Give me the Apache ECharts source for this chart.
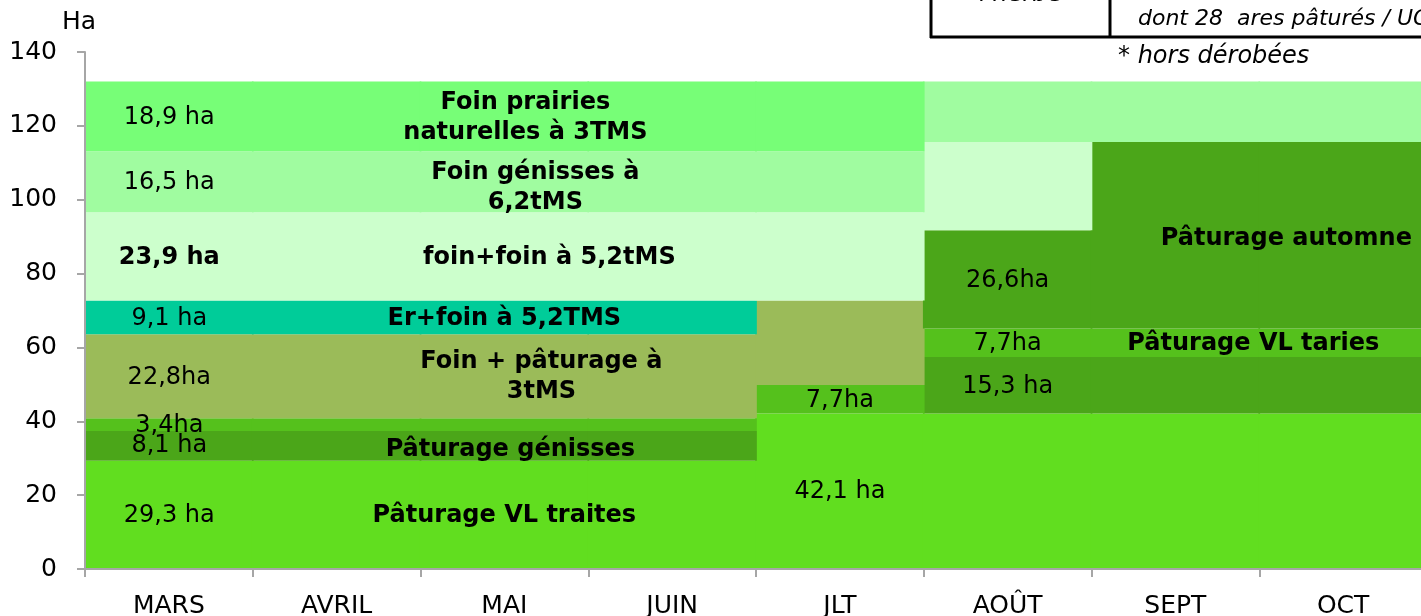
<!DOCTYPE html>
<html>
<head>
<meta charset="utf-8">
<script src="https://cdn.jsdelivr.net/npm/echarts@6/dist/echarts.min.js"></script>
<style>
	html, body { margin: 0; padding: 0; background: #fff; }
	#surfaces { width: 1421px; height: 616px; }
</style>
</head>
<body>
<div id="surfaces"></div>
<script>
	// mois de la saison de pâturage
	var months = ['MARS', 'AVRIL', 'MAI', 'JUIN', 'JLT', 'AOÛT', 'SEPT', 'OCT'];
	var yTicks = [0, 20, 40, 60, 80, 100, 120, 140];

	// surfaces (ha), empilées du bas vers le haut
	var vlTraites = [29.3, 29.3, 29.3, 29.3, 42.1, 42.1, 42.1, 42.1];
	var genisses  = [8.1, 8.1, 8.1, 8.1, null, 15.3, 15.3, 15.3];
	var petitPat  = [3.4, 3.4, 3.4, 3.4, 7.7, 7.7, 7.7, 7.7];
	var foinPat   = [22.8, 22.8, 22.8, 22.8, 22.9, null, null, null];
	var erFoin    = [9.1, 9.1, 9.1, 9.1, null, null, null, null];
	var automne   = [null, null, null, null, null, 26.6, 50.5, 50.5];
	var foinFoin  = [23.9, 23.9, 23.9, 23.9, 23.9, 23.9, null, null];
	var foinGen   = [16.5, 16.5, 16.5, 16.5, 16.5, 16.4, 16.4, 16.4];
	var foinNat   = [18.9, 18.9, 18.9, 18.9, 18.9, null, null, null];

	var FONT = 'DejaVu Sans, Verdana, sans-serif';

	// une couche de la pile ; lbl = [indice du mois, texte, décalage x, décalage y, gras]
	function couche(name, values, color, lbl) {
		var data = [];
		for (var i = 0; i < values.length; i++) {
			var item = { value: values[i] == null ? '-' : values[i] };
			for (var k = 0; k < lbl.length; k++) {
				if (lbl[k][0] === i) {
					item.label = {
						show: true,
						position: 'inside',
						formatter: lbl[k][1],
						offset: [lbl[k][2], lbl[k][3]],
						fontWeight: lbl[k][4] ? 'bold' : 'normal'
					};
				}
			}
			data.push(item);
		}
		return {
			name: name,
			type: 'bar',
			stack: 'ha',
			// un peu plus large que le mois : pas de fente entre les colonnes
			barWidth: '101%',
			itemStyle: { color: color },
			label: {
				show: false,
				color: '#000',
				fontFamily: FONT,
				fontSize: 24,
				lineHeight: 30
			},
			emphasis: { disabled: true },
			data: data
		};
	}

	var chart = echarts.init(document.getElementById('surfaces'));

	var option = {
		animation: false,
		textStyle: { fontFamily: FONT },
		// le graphique d'origine dépasse un peu à droite de la capture
		grid: { left: 85, width: 1342, top: 52, bottom: 47, outerBoundsMode: 'none' },
		xAxis: {
			type: 'category',
			data: months,
			boundaryGap: true,
			z: 3,
			axisLine: { lineStyle: { color: '#a6a6a6', width: 2 } },
			axisTick: { show: true, length: 8, interval: 0, lineStyle: { color: '#a6a6a6', width: 2 } },
			axisLabel: { color: '#000', fontSize: 25, margin: 25, interval: 0 }
		},
		yAxis: {
			type: 'value',
			min: yTicks[0],
			max: yTicks[yTicks.length - 1],
			interval: yTicks[1] - yTicks[0],
			z: 3,
			splitLine: { show: false },
			axisLine: { show: true, lineStyle: { color: '#a6a6a6', width: 2 } },
			axisTick: { show: true, length: 8, lineStyle: { color: '#a6a6a6', width: 2 } },
			axisLabel: { color: '#000', fontSize: 25, margin: 28 }
		},
		graphic: [
			{ type: 'text', left: 62, top: 10, style: { text: 'Ha', fontSize: 25, fontFamily: FONT, fill: '#000' } },
			// morceau du tableau au-dessus du graphique
			{ type: 'line', shape: { x1: 931, y1: 0, x2: 931, y2: 38 }, style: { stroke: '#000', lineWidth: 3 } },
			{ type: 'line', shape: { x1: 1110, y1: 0, x2: 1110, y2: 38 }, style: { stroke: '#000', lineWidth: 3 } },
			{ type: 'line', shape: { x1: 930, y1: 37, x2: 1421, y2: 37 }, style: { stroke: '#000', lineWidth: 3 } },
			{ type: 'text', left: 978, top: -17, style: { text: "l'herbe", fontSize: 24, fontFamily: FONT, fill: '#000' } },
			{ type: 'text', left: 1138, top: 8, style: { text: 'dont 28  ares pâturés / UGB', fontSize: 22, fontStyle: 'italic', fontFamily: FONT, fill: '#000' } },
			{ type: 'text', left: 1118, top: 45, style: { text: '* hors dérobées', fontSize: 24, fontStyle: 'italic', fontFamily: FONT, fill: '#000' } }
		],
		series: [
			couche('Pâturage VL traites', vlTraites, '#61de1f', [[0, '29,3 ha', 0, 1], [2, 'Pâturage VL traites', 0, 1, true], [4, '42,1 ha', 0, 1]]),
			couche('Pâturage génisses', genisses, '#4ba619', [[0, '8,1 ha', 0, 0], [2, 'Pâturage génisses', 6, 4, true], [5, '15,3 ha', 0, 1]]),
			couche('Pâturage 3,4 / VL taries', petitPat, '#55c11c', [[0, '3,4ha', 0, 1], [4, '7,7ha', 0, 1], [5, '7,7ha', 0, 1], [6, 'Pâturage VL taries', 78, 1, true]]),
			couche('Foin + pâturage', foinPat, '#9bbb59', [[0, '22,8ha', 0, 2], [2, 'Foin + pâturage à\n3tMS', 37, 1, true]]),
			couche('Er+foin', erFoin, '#00cc99', [[0, '9,1 ha', 0, 1], [2, 'Er+foin à 5,2TMS', 0, 1, true]]),
			couche('Pâturage automne', automne, '#4ba619', [[5, '26,6ha', 0, 1], [6, 'Pâturage automne', 111, 3, true]]),
			couche('foin+foin', foinFoin, '#ccffcc', [[0, '23,9 ha', 0, 1, true], [2, 'foin+foin à 5,2tMS', 45, 1, true]]),
			couche('Foin génisses', foinGen, '#a0fca0', [[0, '16,5 ha', 0, 1], [2, 'Foin génisses à\n6,2tMS', 31, 6, true]]),
			couche('Foin prairies naturelles', foinNat, '#77fe77', [[0, '18,9 ha', 0, 1], [2, 'Foin prairies\nnaturelles à 3TMS', 21, 1, true]])
		]
	};

	option && chart.setOption(option);
</script>
</body>
</html>
